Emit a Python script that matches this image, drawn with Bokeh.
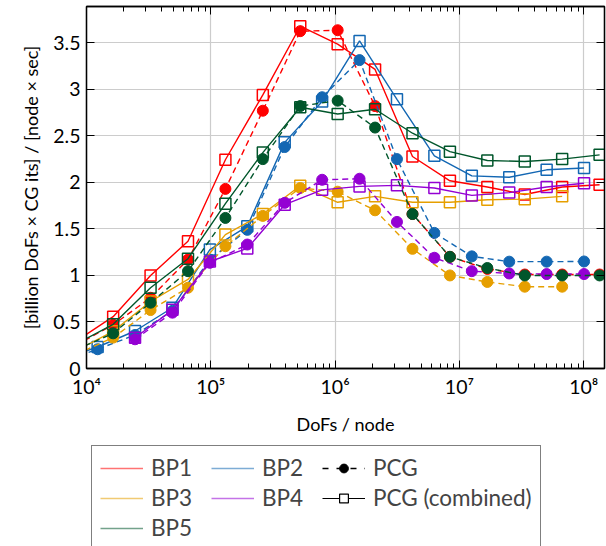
from bokeh.plotting import figure
from bokeh.layouts import column
from bokeh.models import (FixedTicker, CustomJSTickFormatter, LogAxis, LinearAxis,
                          Legend, LegendItem, Range1d)
from bokeh.embed import file_html
from bokeh.resources import INLINE

# ---------------- data ----------------
# DoFs per node (power-of-two grid and 3*power-of-two grid)
x_pow2 = [8192, 16384, 32768, 65536, 131072, 262144, 524288, 1048576, 2097152,
          4194304, 8388608, 16777216, 33554432, 67108864, 134217728]
x_3pow2 = [6144, 12288, 24576, 49152, 98304, 196608, 393216, 786432, 1572864,
           3145728, 6291456, 12582912, 25165824, 50331648, 100663296]

bp1_comb = [0.29, 0.557, 1.0, 1.367, 2.243, 2.94, 3.678, 3.485, 3.214, 2.278, 2.017, 1.95, 1.87, 1.95, 1.975]
bp1_pcg = [0.25, 0.47, 0.76, 1.17, 1.93, 2.77, 3.625, 3.635, 2.82, 1.66, 1.2, 1.07, 1.01, 1.01, 1.01]

bp2_comb = [0.09, 0.231, 0.403, 0.653, 1.278, 1.528, 2.43, 2.87, 3.52, 2.893, 2.285, 2.07, 2.055, 2.135, 2.155]
bp2_pcg = [0.07, 0.207, 0.36, 0.62, 1.17, 1.49, 2.38, 2.915, 3.314, 2.25, 1.457, 1.205, 1.148, 1.148, 1.15]

bp3_comb = [0.19, 0.40, 0.72, 0.957, 1.439, 1.66, 1.964, 1.786, 1.85, 1.786, 1.786, 1.814, 1.82, 1.85]
bp3_pcg = [0.15, 0.332, 0.628, 0.868, 1.314, 1.64, 1.94, 1.90, 1.70, 1.286, 1.0, 0.93, 0.879, 0.879]

bp4_comb = [0.33, 0.63, 1.15, 1.29, 1.76, 1.92, 1.957, 1.968, 1.94, 1.86, 1.89, 1.95, 1.99]
bp4_pcg = [0.314, 0.6, 1.136, 1.332, 1.78, 2.028, 2.039, 1.575, 1.19, 1.046, 1.021, 1.015, 1.015]

bp5_comb = [0.26, 0.475, 0.868, 1.18, 1.771, 2.32, 2.807, 2.735, 2.786, 2.528, 2.33, 2.235, 2.225, 2.25, 2.296]
bp5_pcg = [0.2, 0.378, 0.707, 1.046, 1.618, 2.25, 2.82, 2.878, 2.589, 1.66, 1.2, 1.08, 1.0, 1.0, 1.0]

series = [
    ("BP1", "#ff0000", x_pow2, bp1_comb, bp1_pcg),
    ("BP2", "#1367b3", x_3pow2, bp2_comb, bp2_pcg),
    ("BP3", "#e69f00", x_pow2, bp3_comb, bp3_pcg),
    ("BP4", "#9400d3", x_3pow2[2:], bp4_comb, bp4_pcg),
    ("BP5", "#00562b", x_pow2, bp5_comb, bp5_pcg),
]

x_ticks = [1e4, 1e5, 1e6, 1e7, 1e8]
x_tick_labels = ["10⁴", "10⁵", "10⁶", "10⁷", "10⁸"]
y_ticks = [0, 0.5, 1, 1.5, 2, 2.5, 3, 3.5]
y_tick_labels = ["0", "0.5", "1", "1.5", "2", "2.5", "3", "3.5"]

FONT = "Lato"
TICK_FS = "19.5px"
LABEL_FS = "18px"
LEG_FS = "22.5px"

p = figure(width=606, height=445, x_axis_type="log",
           x_range=Range1d(1e4, 1.47e8), y_range=Range1d(0, 3.89),
           output_backend="svg", toolbar_location=None,
           min_border_left=86, min_border_right=2, min_border_top=6,
           min_border_bottom=77)
p.background_fill_color = "white"
p.border_fill_color = "white"
p.outline_line_color = "black"
p.outline_line_width = 1.3

minor = [m * 10 ** e for e in range(4, 8) for m in range(2, 10)]
xticker = FixedTicker(ticks=x_ticks, minor_ticks=minor)
yticker = FixedTicker(ticks=y_ticks, minor_ticks=[])

xfmt = CustomJSTickFormatter(args=dict(tvals=x_ticks, tlabels=x_tick_labels),
                             code="const i = tvals.indexOf(tick); return i >= 0 ? tlabels[i] : '';")
yfmt = CustomJSTickFormatter(args=dict(tvals=y_ticks, tlabels=y_tick_labels),
                             code="const i = tvals.indexOf(tick); return i >= 0 ? tlabels[i] : '';")
blank = CustomJSTickFormatter(code="return '';")

# mirrored tick marks on top and right (no labels)
top_ax = LogAxis(ticker=xticker, formatter=blank, major_label_standoff=0,
                 major_label_text_font_size="1px")
right_ax = LinearAxis(ticker=yticker, formatter=blank, major_label_standoff=0,
                      major_label_text_font_size="1px")
p.add_layout(top_ax, "above")
p.add_layout(right_ax, "right")

for ax in p.xaxis:
    if ax is not top_ax:
        ax.ticker = xticker
        ax.formatter = xfmt
for ax in p.yaxis:
    if ax is not right_ax:
        ax.ticker = yticker
        ax.formatter = yfmt

for ax in list(p.xaxis) + list(p.yaxis):
    ax.major_tick_in = 8
    ax.major_tick_out = 0
    ax.minor_tick_in = 5
    ax.minor_tick_out = 0
    ax.axis_line_color = "black"
    ax.axis_line_width = 1.3
    ax.major_tick_line_color = "black"
    ax.minor_tick_line_color = "black"
    ax.major_label_text_font = FONT
    ax.major_label_text_color = "black"
    ax.axis_label_text_font = FONT
    ax.axis_label_text_font_size = LABEL_FS
    ax.axis_label_text_font_style = "normal"
    ax.axis_label_text_color = "black"

p.below[0].major_label_text_font_size = TICK_FS
p.left[0].major_label_text_font_size = TICK_FS
p.below[0].axis_label = "DoFs / node"
p.left[0].axis_label = "[billion DoFs × CG its] / [node × sec]"
p.below[0].major_label_standoff = 6
p.below[0].axis_label_standoff = 12
p.left[0].major_label_standoff = 6
p.left[0].axis_label_standoff = 8

p.xgrid.ticker = xticker
p.ygrid.ticker = yticker
p.xgrid.grid_line_color = "#cccccc"
p.ygrid.grid_line_color = "#cccccc"
p.xgrid.grid_line_width = 1.2
p.ygrid.grid_line_width = 1.2

for (name, col, xs, comb, pcg) in series:
    xc = xs[:len(comb)]
    xp = xs[:len(pcg)]
    p.line(xc, comb, line_color=col, line_width=1.4)
    p.scatter(xc, comb, marker="square", size=11, line_color=col, line_width=1.5,
              fill_color=None)
    p.line(xp, pcg, line_color=col, line_width=1.4, line_dash="6 4")
    p.scatter(xp, pcg, marker="circle", size=11, line_color=col, fill_color=col)

# ---------------- legend (separate strip under the plot) ----------------
# the strip's ranges keep its proxy renderers (same data) out of view;
# only their legend glyphs are shown.
lg = figure(width=606, height=101, output_backend="svg", toolbar_location=None,
            x_range=Range1d(0, 1), y_range=Range1d(0, 1),
            x_axis_location=None, y_axis_location=None, min_border=0)
lg.grid.visible = False
lg.outline_line_color = None
lg.background_fill_color = "white"
lg.border_fill_color = "white"

proxies = {}
for (name, col, xs, comb, pcg) in series:
    proxies[name] = lg.line(xs[:len(comb)], comb, line_color=col, line_width=1.4,
                            line_alpha=0.55)
pcg_l = lg.line(x_pow2, bp1_pcg, line_color="black", line_width=1.4, line_dash="6 8")
pcg_m = lg.scatter(x_pow2, bp1_pcg, marker="circle", size=10, line_color="black",
                   fill_color="black")
cmb_l = lg.line(x_pow2, bp1_comb, line_color="black", line_width=1.2)
cmb_m = lg.scatter(x_pow2, bp1_comb, marker="square", size=11, line_color="black",
                   line_width=1.2, fill_color="white")

legend = Legend(items=[
    LegendItem(label="BP1", renderers=[proxies["BP1"]]),
    LegendItem(label="BP2", renderers=[proxies["BP2"]]),
    LegendItem(label="PCG", renderers=[pcg_l, pcg_m]),
    LegendItem(label="BP3", renderers=[proxies["BP3"]]),
    LegendItem(label="BP4", renderers=[proxies["BP4"]]),
    LegendItem(label="PCG (combined)", renderers=[cmb_l, cmb_m]),
    LegendItem(label="BP5", renderers=[proxies["BP5"]]),
], orientation="horizontal", ncols=3, location=(5, -4), margin=0,
   padding=8, spacing=3, glyph_width=43, glyph_height=22, label_height=22,
   label_width=57, label_standoff=8, label_text_font=FONT,
   label_text_font_size=LEG_FS, border_line_color="black", border_line_width=1.2,
   background_fill_color="white", background_fill_alpha=1.0)
lg.add_layout(legend, "center")

page = column(p, lg, spacing=0)
open("out.html", "w").write(file_html(page, INLINE))
